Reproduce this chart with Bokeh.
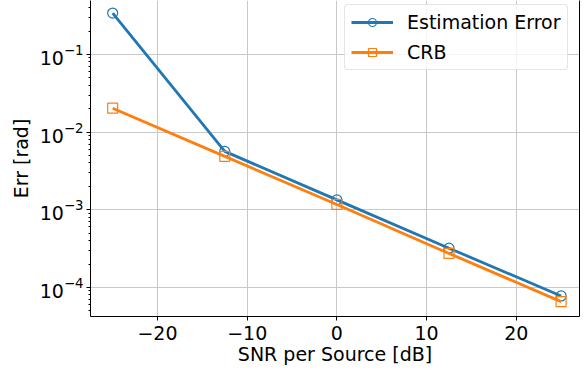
from bokeh.plotting import figure
from bokeh.models import Range1d, LogAxis, FixedTicker, CustomJSTickFormatter, Legend, LegendItem
from bokeh.embed import file_html
from bokeh.resources import INLINE

snr = [-25, -12.5, 0, 12.5, 25]
est_err = [0.341, 0.00565, 0.00134, 0.00032, 0.0000776]
crb = [0.0203, 0.00487, 0.00117, 0.000274, 0.0000656]
x_ticks = [-20, -10, 0, 10, 20]
y_ticks = [1e-4, 1e-3, 1e-2, 1e-1]

FONT = "DejaVu Sans"
BLUE = "#1f77b4"
ORANGE = "#ff7f0e"

p = figure(width=580, height=367, y_axis_type="log", output_backend="svg",
           toolbar_location=None, x_range=Range1d(-27.47, 27.05),
           y_range=Range1d(4.22e-5, 0.495),
           min_border_left=90, min_border_right=1, min_border_top=0, min_border_bottom=49)
p.outline_line_color = None
p.background_fill_color = "white"
p.border_fill_color = "white"

l1 = p.line(snr, est_err, line_color=BLUE, line_width=2.8)
m1 = p.scatter(snr, est_err, marker="circle", size=10, fill_color=None, line_color=BLUE, line_width=1.2)
l2 = p.line(snr, crb, line_color=ORANGE, line_width=2.8)
m2 = p.scatter(snr, crb, marker="square", size=10, fill_color=None, line_color=ORANGE, line_width=1.2)

for ax in (p.xaxis[0], p.yaxis[0]):
    ax.major_label_text_font = FONT
    ax.major_label_text_font_size = "19px"
    ax.major_label_text_color = "black"
    ax.axis_label_text_font = FONT
    ax.axis_label_text_font_size = "19px"
    ax.axis_label_text_font_style = "normal"
    ax.axis_label_text_color = "black"
    ax.axis_line_color = "black"
    ax.major_tick_line_color = "black"
    ax.minor_tick_line_color = "black"
    ax.major_tick_in = 0
    ax.minor_tick_in = 0
    ax.major_tick_out = 4
    ax.minor_tick_out = 2
    ax.major_label_standoff = 3
    ax.axis_label_standoff = 2

p.yaxis.axis_label_standoff = 5
p.xaxis.major_label_standoff = 5
p.xaxis.axis_label_standoff = 0
p.xaxis.axis_label = "SNR per Source [dB]"
p.yaxis.axis_label = "Err [rad]"
p.xaxis.ticker = FixedTicker(ticks=x_ticks)
p.xaxis.formatter = CustomJSTickFormatter(code="return tick.toFixed(0).replace('-', '\u2212');")
p.xaxis.minor_tick_line_color = None

right = LogAxis(ticker=FixedTicker(ticks=[]), major_label_text_font_size="0px",
                major_label_standoff=0, axis_label_standoff=0,
                major_tick_out=0, minor_tick_out=0, major_tick_in=0, minor_tick_in=0,
                axis_line_color="black", major_tick_line_color=None, minor_tick_line_color=None)
p.add_layout(right, "right")

p.xgrid.ticker = FixedTicker(ticks=x_ticks)
p.ygrid.ticker = FixedTicker(ticks=y_ticks)
for g in (p.xgrid[0], p.ygrid[0]):
    g.grid_line_color = "#c8c8c8"
    g.grid_line_width = 1

legend = Legend(items=[LegendItem(label="Estimation Error", renderers=[l1, m1]),
                       LegendItem(label="CRB", renderers=[l2, m2])],
                location=(254, 246))
legend.label_text_font = FONT
legend.label_text_font_size = "19px"
legend.label_text_color = "black"
legend.glyph_width = 42
legend.glyph_height = 20
legend.label_height = 20
legend.label_standoff = 14
legend.spacing = 8
legend.padding = 6
legend.margin = 0
legend.border_line_color = "#cccccc"
legend.border_line_width = 1
legend.border_radius = 4
legend.background_fill_color = "white"
legend.background_fill_alpha = 0.8
p.add_layout(legend, "center")

open("out.html", "w").write(file_html(p, INLINE))
